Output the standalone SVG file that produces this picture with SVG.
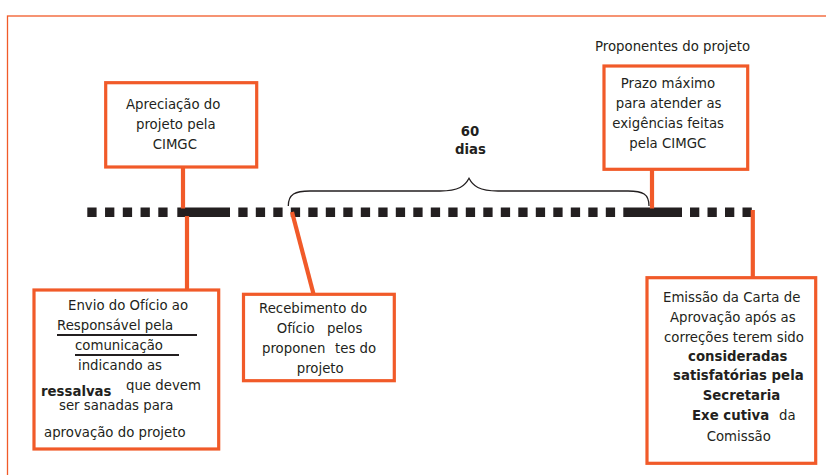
<svg xmlns="http://www.w3.org/2000/svg" width="826" height="475" viewBox="0 0 826 475">
<style>
.box{fill:#fff;stroke:#F15A29;stroke-width:3.2}
.con{stroke:#F15A29;stroke-width:4.2;fill:none}
text{font-family:"DejaVu Sans","Verdana",sans-serif;font-size:13.3px;fill:#231F20}
.b{font-weight:bold}
.dash{stroke:#231F20;stroke-width:9.5;fill:none}
</style>
<rect width="826" height="475" fill="#fff"/>
<rect x="7.5" y="16" width="830" height="470" fill="none" stroke="#F15A29" stroke-width="1.3"/>
<g id="timeline">
<line class="dash" x1="87.3" y1="212.3" x2="168" y2="212.3" stroke-dasharray="9.3 8.45"/>
<line class="dash" x1="177.3" y1="212.3" x2="230" y2="212.3"/>
<line class="dash" x1="238.3" y1="212.3" x2="615.6" y2="212.3" stroke-dasharray="9.3 8.2"/>
<line class="dash" x1="623.3" y1="212.3" x2="682" y2="212.3"/>
<line class="dash" x1="690" y1="212.3" x2="752.5" y2="212.3" stroke-dasharray="9.3 8.2"/>
</g>
<g id="connectors">
<line class="con" x1="183" y1="167" x2="183" y2="208.5"/>
<line class="con" x1="187" y1="216" x2="187" y2="290"/>
<line class="con" x1="292" y1="212" x2="313.5" y2="294"/>
<line class="con" x1="652" y1="169" x2="652" y2="208.5"/>
<line class="con" x1="752.8" y1="210" x2="752.8" y2="278"/>
<path d="M288.3,206 C288.3,194 295,191 310,191 L440,191 C459,191 465,186 469,178.3 C473,186 479,191 498,191 L628,191 C643,191 649,194 649,206" fill="none" stroke="#231F20" stroke-width="1.3"/>
</g>
<g id="label-proponentes">
<text x="595" y="50.7">Proponentes do projeto</text>
</g>
<g id="label-60dias">
<text class="b" x="470" y="136" text-anchor="middle">60</text>
<text class="b" x="470.5" y="154" text-anchor="middle">dias</text>
</g>
<g id="node-apreciacao">
<rect class="box" x="105.7" y="82.7" width="151" height="84.3"/>
<text x="126" y="109">Apreciação do</text>
<text x="136" y="128.5">projeto pela</text>
<text x="152.7" y="148.5">CIMGC</text>
</g>
<g id="node-prazo">
<rect class="box" x="604" y="66" width="143.7" height="103.3"/>
<text x="620.7" y="87.7">Prazo máximo</text>
<text x="615.7" y="107.7">para atender as</text>
<text x="612.3" y="127.7">exigências feitas</text>
<text x="629.3" y="147.7">pela CIMGC</text>
</g>
<g id="node-envio">
<rect class="box" x="34" y="290" width="184.7" height="159"/>
<text x="68" y="310">Envio do Ofício ao</text>
<text x="57" y="330">Responsável pela</text>
<line x1="57" y1="335" x2="197" y2="335" stroke="#231F20" stroke-width="2"/>
<text x="75" y="350">comunicação</text>
<line x1="75" y1="355" x2="179" y2="355" stroke="#231F20" stroke-width="2"/>
<text x="78" y="370">indicando as</text>
<text class="b" x="41" y="395.7">ressalvas</text>
<text x="126" y="390">que devem</text>
<text x="59" y="410">ser sanadas para</text>
<text x="44" y="436.7">aprovação do projeto</text>
</g>
<g id="node-recebimento">
<rect class="box" x="243.5" y="294.3" width="150.8" height="86.4"/>
<text x="259" y="312.7">Recebimento do</text>
<text y="332.7"><tspan x="276.7">Ofício</tspan><tspan x="327">pelos</tspan></text>
<text y="352.7"><tspan x="262">proponen</tspan><tspan x="335">tes do</tspan></text>
<text x="296.7" y="372.7">projeto</text>
</g>
<g id="node-emissao">
<rect class="box" x="647" y="277.7" width="168.7" height="185.6"/>
<text x="663" y="301.7">Emissão da Carta de</text>
<text x="670" y="321.7">Aprovação após as</text>
<text x="664" y="341.7">correções terem sido</text>
<text class="b" x="688" y="360.5">consideradas</text>
<text class="b" x="673" y="380.3">satisfatórias pela</text>
<text class="b" x="702.7" y="400.3">Secretaria</text>
<text y="420.3"><tspan class="b" x="692">Exe cutiva</tspan><tspan x="779">da</tspan></text>
<text x="706.7" y="440.7">Comissão</text>
</g>
</svg>
